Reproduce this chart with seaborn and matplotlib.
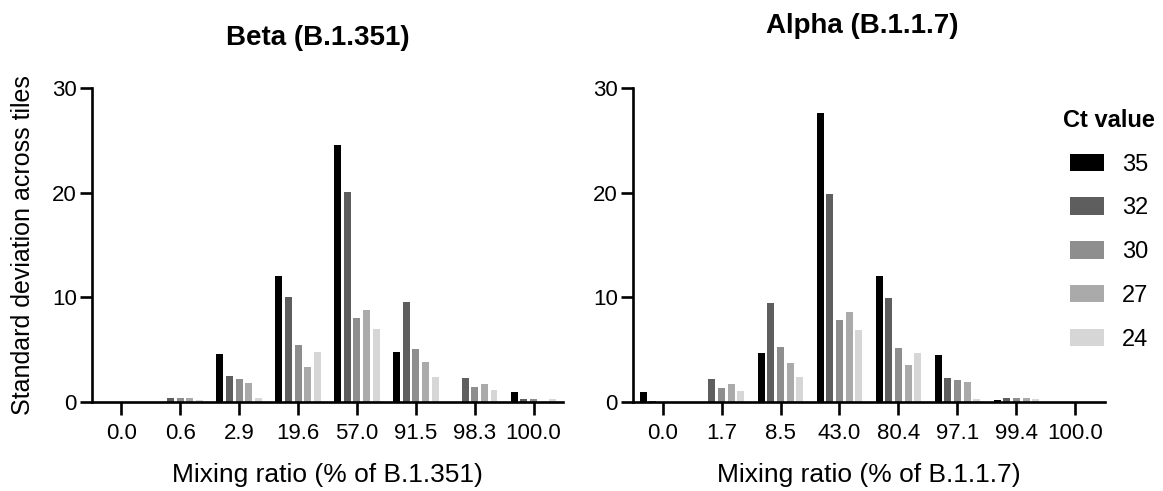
import numpy as np
import pandas as pd
import seaborn as sns
import matplotlib.pyplot as plt
from matplotlib.patches import Patch

# Ct values (hue) and grey shades
ct_values = ['35', '32', '30', '27', '24']
ct_colors = ['#000000', '#5e5e5e', '#8e8e8e', '#aaaaaa', '#d6d6d6']

# Beta (B.1.351) panel
beta_ratios = ['0.0', '0.6', '2.9', '19.6', '57.0', '91.5', '98.3', '100.0']
beta_ct35 = [0.0, 0.0, 4.6, 12.05, 24.6, 4.75, 0.0, 1.0]
beta_ct32 = [0.0, 0.4, 2.5, 10.0, 20.05, 9.6, 2.25, 0.3]
beta_ct30 = [0.0, 0.35, 2.15, 5.4, 8.0, 5.05, 1.45, 0.3]
beta_ct27 = [0.0, 0.4, 1.8, 3.35, 8.8, 3.85, 1.7, 0.0]
beta_ct24 = [0.0, 0.2, 0.35, 4.75, 6.95, 2.4, 1.1, 0.25]

# Alpha (B.1.1.7) panel
alpha_ratios = ['0.0', '1.7', '8.5', '43.0', '80.4', '97.1', '99.4', '100.0']
alpha_ct35 = [1.0, 0.0, 4.65, 27.6, 12.05, 4.45, 0.15, 0.0]
alpha_ct32 = [0.1, 2.2, 9.5, 19.9, 9.9, 2.3, 0.4, 0.0]
alpha_ct30 = [0.0, 1.3, 5.3, 7.85, 5.2, 2.1, 0.4, 0.0]
alpha_ct27 = [0.0, 1.7, 3.75, 8.6, 3.5, 1.9, 0.35, 0.0]
alpha_ct24 = [0.0, 1.05, 2.4, 6.9, 4.7, 0.3, 0.3, 0.0]


def long_table(ratios, series):
    rows = []
    for ct, vals in zip(ct_values, series):
        for r, v in zip(ratios, vals):
            rows.append({'ratio': r, 'ct': ct, 'sd': v})
    return pd.DataFrame(rows)


beta_df = long_table(beta_ratios, [beta_ct35, beta_ct32, beta_ct30, beta_ct27, beta_ct24])
alpha_df = long_table(alpha_ratios, [alpha_ct35, alpha_ct32, alpha_ct30, alpha_ct27, alpha_ct24])

sns.set_style('ticks', {'axes.edgecolor': 'black', 'text.color': 'black',
                        'axes.labelcolor': 'black', 'xtick.color': 'black',
                        'ytick.color': 'black'})
plt.rcParams['font.family'] = ['Liberation Sans', 'DejaVu Sans']

fig = plt.figure(figsize=(11.63, 4.91), dpi=100)
ax1 = fig.add_axes([0.0791, 0.1813, 0.405, 0.6395])
ax2 = fig.add_axes([0.5443, 0.1813, 0.4058, 0.6395])

for ax, df, order, xlab in [(ax1, beta_df, beta_ratios, 'Mixing ratio (% of B.1.351)'),
                            (ax2, alpha_df, alpha_ratios, 'Mixing ratio (% of B.1.1.7)')]:
    sns.barplot(data=df, x='ratio', y='sd', hue='ct', order=order, hue_order=ct_values,
                palette=ct_colors, width=0.82, gap=0.28, linewidth=0, legend=False,
                errorbar=None, ax=ax)
    ax.set_xlim(-0.5, 7.5)
    ax.set_ylim(0, 30)
    ax.set_yticks([0, 10, 20, 30])
    for s in ['top', 'right']:
        ax.spines[s].set_visible(False)
    for s in ['left', 'bottom']:
        ax.spines[s].set_linewidth(1.9)
        ax.spines[s].set_color('black')
    ax.tick_params(axis='both', width=1.9, length=9, labelsize=16, color='black',
                   labelcolor='black')
    ax.tick_params(axis='x', pad=6)
    ax.tick_params(axis='y', pad=2)
    ax.set_xlabel(xlab, fontsize=19, labelpad=14, color='black')
    ax.set_ylabel('')

ax1.set_ylabel('Standard deviation across tiles', fontsize=18, labelpad=12, color='black')

fig.text(318 / 1163, 1 - 45 / 491, 'Beta (B.1.351)', fontsize=20, fontweight='bold',
         ha='center', va='baseline', color='black')
fig.text(862 / 1163, 1 - 33 / 491, 'Alpha (B.1.1.7)', fontsize=20, fontweight='bold',
         ha='center', va='baseline', color='black')

handles = [Patch(facecolor=c, edgecolor='none') for c in ct_colors]
leg = fig.legend(handles, ct_values, title='Ct value', loc='upper left',
                 bbox_to_anchor=(1063 / 1163, 1 - 109 / 491), frameon=False,
                 fontsize=17, title_fontproperties={'weight': 'bold', 'size': 17},
                 handlelength=1.45, handleheight=0.76, handletextpad=0.75,
                 labelspacing=0.92, borderpad=0, borderaxespad=0, alignment='center')
leg.get_title().set_color('black')
for t in leg.get_texts():
    t.set_color('black')

fig.savefig('out.png', dpi=100)
